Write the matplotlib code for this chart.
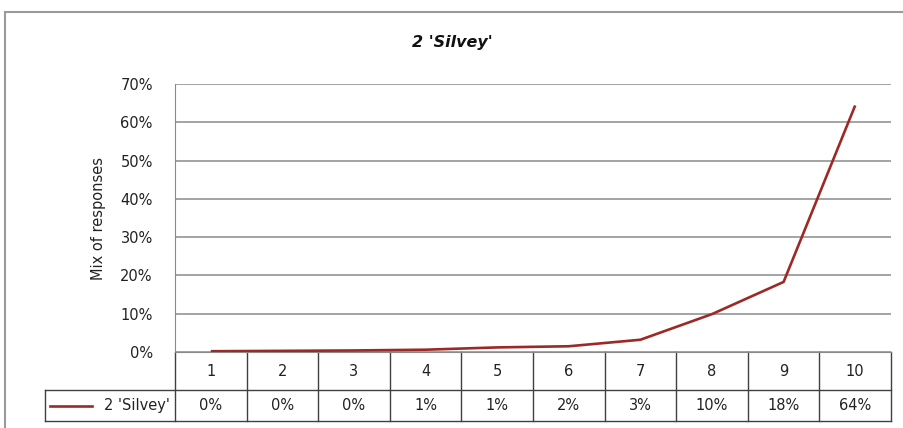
import numpy as np
import matplotlib.pyplot as plt
from matplotlib.patches import Rectangle
from matplotlib.lines import Line2D

plt.rcParams["font.family"] = ["DejaVu Sans"]
plt.rcParams["font.size"] = 10.5

# data
categories = ["1", "2", "3", "4", "5", "6", "7", "8", "9", "10"]
series_name = "2 'Silvey'"
values = [0.2, 0.3, 0.4, 0.6, 1.2, 1.5, 3.2, 9.9, 18.3, 64.4]
y_ticks = [0, 10, 20, 30, 40, 50, 60, 70]

line_color = "#9b2a27"
grid_color = "#8a8a8a"
edge_color = "#404040"
text_color = "#222222"

fig = plt.figure(figsize=(9.04, 4.28), dpi=100)
ax = fig.add_axes([175 / 904, 1 - 352 / 428, 716 / 904, 268 / 428])

x = np.arange(1, len(categories) + 1)
ax.plot(x, values, color=line_color, linewidth=1.9, solid_capstyle="butt", zorder=3)

ax.set_xlim(0.5, len(categories) + 0.5)
ax.set_ylim(0, 70)
ax.set_yticks(y_ticks)
ax.set_yticklabels([f"{t}%" for t in y_ticks])
ax.set_xticks([])
ax.tick_params(axis="y", length=0, pad=16, labelsize=10.5, colors=text_color)
ax.grid(axis="y", color=grid_color, linewidth=1.1)
ax.set_axisbelow(True)
for side in ["top", "right"]:
    ax.spines[side].set_visible(False)
ax.spines["left"].set_color(grid_color)
ax.spines["bottom"].set_color(grid_color)
ax.set_ylabel("Mix of responses", fontsize=10.5, labelpad=10, color=text_color)
fig.text(0.5, 1 - 43 / 428, series_name, ha="center", va="center",
         fontsize=11.5, fontweight="bold", style="italic", color="#111111")

# data table under the plot
trans = ax.get_xaxis_transform()
row1 = -38 / 268
row2 = -69 / 268
x_left = 0.5 + (45 - 175) / 716 * len(categories)
x_right = len(categories) + 0.5
lkw = dict(color=edge_color, linewidth=1.0, transform=trans, clip_on=False)

for b in np.arange(0.5, len(categories) + 1):
    ax.add_line(Line2D([b, b], [0, row2], **lkw))
ax.add_line(Line2D([x_left, x_right], [row1, row1], **lkw))
ax.add_line(Line2D([x_left, x_right], [row2, row2], **lkw))
ax.add_line(Line2D([x_left, x_left], [row1, row2], **lkw))

for xi, cat, v in zip(x, categories, values):
    ax.text(xi, row1 / 2, cat, transform=trans, ha="center", va="center", fontsize=10.5, color=text_color)
    ax.text(xi, (row1 + row2) / 2, f"{v:.0f}%", transform=trans, ha="center", va="center",
            fontsize=10.5, color=text_color)

# legend key in first cell
key_y = (row1 + row2) / 2
k0 = 0.5 + (50 - 175) / 716 * len(categories)
k1 = 0.5 + (92 - 175) / 716 * len(categories)
ax.add_line(Line2D([k0, k1], [key_y, key_y], color=line_color, linewidth=1.9, transform=trans, clip_on=False))
ax.text(0.5 + (170 - 175) / 716 * len(categories), key_y, series_name, transform=trans,
        ha="right", va="center", fontsize=10.5, color=text_color)

# chart border
fig.patches.append(Rectangle((5 / 904, -0.05), 1.0, 1 - 12 / 428 + 0.05, transform=fig.transFigure,
                             fill=False, edgecolor="#9a9a9a", linewidth=1.5))

fig.savefig("out.png", dpi=100)
